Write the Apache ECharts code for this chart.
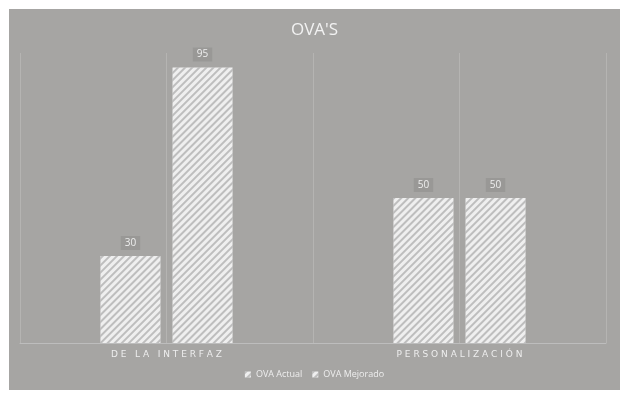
<!DOCTYPE html>
<html><head><meta charset="utf-8">
<script src="https://cdn.jsdelivr.net/npm/echarts@6/dist/echarts.min.js"></script>
<style>html,body{margin:0;background:#fff;}#c{position:absolute;left:9px;top:9px;width:611px;height:381px;background:#a6a5a3;}</style>
</head><body><div id="c"></div>
<script>
const categories = ['DE LA INTERFAZ', 'PERSONALIZACIÓN'];
const seriesNames = ['OVA Actual', 'OVA Mejorado'];
const actual = [30, 50];
const mejorado = [95, 50];
const chart = echarts.init(document.getElementById('c'));
const decal = {symbol:'rect', symbolSize:1, dashArrayX:[1,0], dashArrayY:[2,3], rotation:-Math.PI/4, color:'rgba(150,150,150,0.55)'};
const lbl = {show:true, position:'top', distance:6, color:'#eee', fontSize:10, fontFamily:'Open Sans', backgroundColor:'#999896', padding:[2,4]};
chart.setOption({
  aria:{enabled:true, decal:{show:true}},
  animation:false,
  title:{text:"OVA'S", left:'center', top:8, textStyle:{color:'#f2f2f2', fontSize:17, fontWeight:'normal', fontFamily:'Open Sans'}},
  legend:{bottom:6, itemWidth:6, itemHeight:6, icon:'rect', itemGap:10, textStyle:{color:'#eee', fontSize:9, fontFamily:'Open Sans'}, data:seriesNames},
  grid:{left:11, right:14, top:44, bottom:47},
  xAxis:[
    {type:'category', data:categories, axisTick:{show:false}, axisLine:{lineStyle:{color:'#bdbdbd'}}, axisLabel:{color:'#eee', fontSize:9, fontFamily:'DejaVu Sans', margin:7, formatter:v=>v.split('').join(' ')}, splitLine:{show:false}},
    {type:'value', min:0, max:4, interval:1, show:true, position:'bottom', axisLine:{show:false}, axisTick:{show:false}, axisLabel:{show:false}, splitLine:{show:true, lineStyle:{color:'#b5b4b2'}}}
  ],
  yAxis:{type:'value', min:0, max:100, show:false, splitLine:{show:false}},
  series:[
    {name:seriesNames[0], type:'bar', data:actual, barWidth:'20.5%', barGap:'20%', itemStyle:{color:'#efefef', decal:decal}, label:lbl},
    {name:seriesNames[1], type:'bar', data:mejorado, barWidth:'20.5%', itemStyle:{color:'#efefef', decal:decal}, label:lbl}
  ]
});
</script></body></html>
